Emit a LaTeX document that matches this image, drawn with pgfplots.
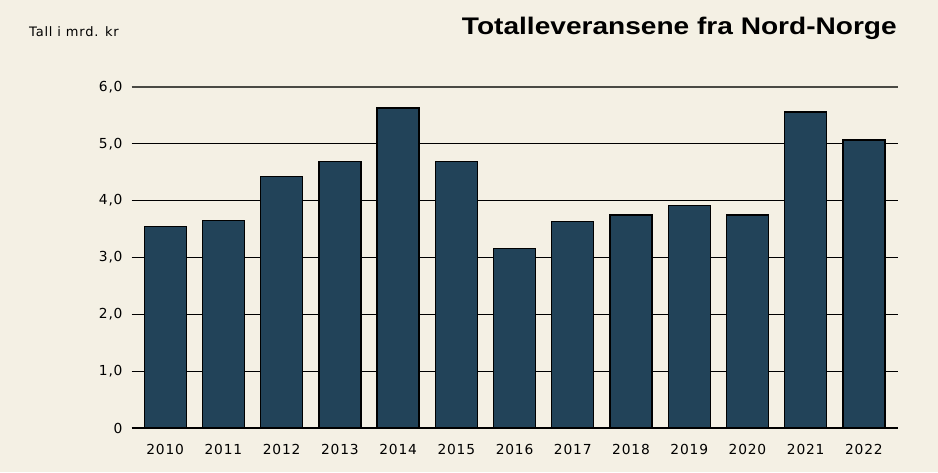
\documentclass[border=0pt]{standalone}
\usepackage{fontspec}
\usepackage{pgfplots}
\pgfplotsset{compat=1.18}
\setmainfont{DejaVu Sans}
\newfontfamily\tickfont[LetterSpace=6]{DejaVu Sans}
\newfontfamily\titlefont[FakeStretch=1.17]{Liberation Sans Bold}
\definecolor{bg}{RGB}{244,240,228}
\definecolor{barc}{RGB}{34,67,89}
\definecolor{topline}{RGB}{74,74,68}
\begin{document}
\begin{tikzpicture}
\fill[bg] (0pt,0pt) rectangle (938pt,472pt);
\node[anchor=base east, inner sep=0pt] at (897pt,437pt) {\titlefont\fontsize{24}{28}\selectfont Totalleveransene fra Nord-Norge};
\node[anchor=base west, inner sep=0pt] at (29pt,435pt) {\tickfont\fontsize{13}{15}\selectfont Tall i mrd. kr};
\begin{axis}[
  at={(131.7pt,44pt)}, anchor=south west,
  scale only axis, width=766pt, height=341pt,
  xmin=-0.575, xmax=12.58, ymin=0, ymax=6,
  axis line style={draw=none},
  tick style={draw=none},
  major tick length=0pt,
  ymajorgrids, grid style={black, line width=1.3pt},
  ytick={0,1,2,3,4,5},
  yticklabels={0,{1,0},{2,0},{3,0},{4,0},{5,0}},
  extra y ticks={6},
  extra y tick labels={6{,}0},
  extra y tick style={grid style={topline, line width=1.5pt}},
  xtick={0,1,2,3,4,5,6,7,8,9,10,11,12},
  xticklabels={2010,2011,2012,2013,2014,2015,2016,2017,2018,2019,2020,2021,2022},
  /pgf/number format/assume math mode=true,
  ticklabel style={font=\tickfont\fontsize{13.8}{16}\selectfont, inner sep=0pt},
  yticklabel style={anchor=east, xshift=-9pt},
  xticklabel style={anchor=north, yshift=-16pt},
  clip=false,
]
\addplot[ybar, bar width=42pt, fill=barc, draw=black, line width=1.3pt] coordinates {
(0,3.54) (1,3.65) (2,4.42) (3,4.69) (4,5.63) (5,4.69) (6,3.16) (7,3.63) (8,3.75) (9,3.92) (10,3.75) (11,5.56) (12,5.07)
};
\end{axis}
\end{tikzpicture}
\end{document}
